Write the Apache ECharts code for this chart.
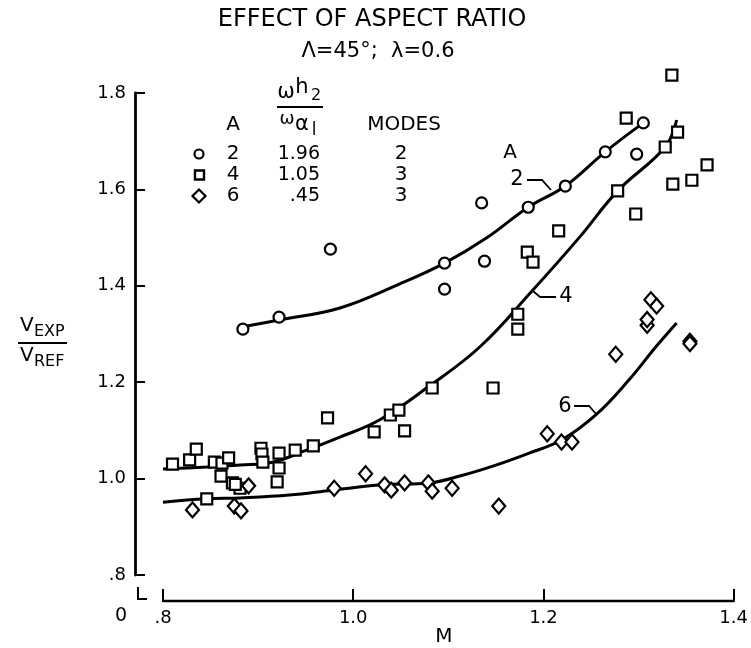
<!DOCTYPE html>
<html><head><meta charset="utf-8">
<script src="https://cdn.jsdelivr.net/npm/echarts@6/dist/echarts.min.js"></script>
<style>html,body{margin:0;padding:0;background:#fff}#c{width:751px;height:648px}</style>
</head><body><div id="c"></div>
<script>
// ---- data (M, V_EXP/V_REF) ----
const circlesA2 = [[0.884,1.310],[0.922,1.335],[0.976,1.476],[1.096,1.393],[1.096,1.447],[1.138,1.451],[1.135,1.572],[1.184,1.563],[1.223,1.607],[1.265,1.678],[1.298,1.673],[1.305,1.738]];
const squaresA4 = [[0.810,1.030],[0.828,1.039],[0.835,1.061],[0.846,0.958],[0.854,1.034],[0.862,1.032],[0.869,1.043],[0.861,1.005],[0.873,0.991],[0.881,0.980],[0.876,0.988],[0.903,1.063],[0.904,1.051],[0.905,1.034],[0.922,1.053],[0.922,1.022],[0.920,0.993],[0.939,1.059],[0.958,1.068],[0.973,1.126],[1.022,1.097],[1.039,1.132],[1.048,1.142],[1.054,1.099],[1.083,1.188],[1.147,1.188],[1.173,1.341],[1.173,1.310],[1.183,1.470],[1.189,1.449],[1.216,1.514],[1.297,1.549],[1.278,1.597],[1.287,1.748],[1.335,1.837],[1.341,1.719],[1.328,1.688],[1.372,1.651],[1.356,1.619],[1.336,1.611]];
const diamondsA6 = [[0.831,0.935],[0.875,0.943],[0.882,0.933],[0.890,0.985],[0.980,0.980],[1.013,1.010],[1.033,0.987],[1.040,0.976],[1.054,0.991],[1.079,0.991],[1.083,0.974],[1.104,0.980],[1.153,0.943],[1.204,1.093],[1.219,1.076],[1.230,1.076],[1.276,1.258],[1.309,1.318],[1.309,1.330],[1.313,1.371],[1.319,1.358],[1.354,1.285],[1.354,1.280]];
const curveA2 = [[0.884,1.315],[0.922,1.329],[0.986,1.354],[1.049,1.404],[1.096,1.447],[1.140,1.499],[1.184,1.563],[1.223,1.607],[1.265,1.678],[1.305,1.738]];
const curveA4 = [[0.800,1.020],[0.846,1.024],[0.881,1.028],[0.915,1.034],[0.951,1.059],[0.986,1.086],[1.028,1.122],[1.080,1.192],[1.133,1.273],[1.187,1.387],[1.238,1.501],[1.278,1.597],[1.328,1.688],[1.340,1.744]];
const curveA6 = [[0.800,0.951],[0.846,0.958],[0.881,0.960],[0.933,0.966],[0.978,0.976],[1.031,0.987],[1.080,0.991],[1.115,1.007],[1.150,1.028],[1.185,1.053],[1.219,1.080],[1.255,1.132],[1.290,1.205],[1.318,1.273],[1.340,1.323]];
const xTickLabels = ['.8','1.0','1.2','1.4'];
const yTickLabels = ['.8','1.0','1.2','1.4','1.6','1.8'];
const legendRows = [
  {sym:'circle', A:'2', ratio:'1.96', modes:'2'},
  {sym:'square', A:'4', ratio:'1.05', modes:'3'},
  {sym:'diamond', A:'6', ratio:'.45', modes:'3'}
];

const FONT = "DejaVu Sans";
const K = '#000';
const chart = echarts.init(document.getElementById('c'), null, {renderer:'canvas'});

function txt(text, x, y, size, align){
  return {type:'text', silent:true, style:{text:text, x:x, y:y, fontSize:size, fontFamily:FONT, fill:K,
    textAlign: align||'center', textVerticalAlign:'middle', verticalAlign:'middle'}};
}
function poly(points, w){
  return {type:'polyline', silent:true, shape:{points:points}, style:{stroke:K, lineWidth:w||1.8, fill:null}};
}

const rowY = [154, 175, 196];
const graphics = [
  txt('EFFECT OF ASPECT RATIO', 372, 20, 24),
  txt('\u039B=45\u00B0;  \u03BB=0.6', 378, 52, 21),
  // y axis name
  txt('V', 20, 326, 20, 'left'), txt('EXP', 34, 332, 16, 'left'),
  {type:'line', silent:true, shape:{x1:18, y1:343, x2:67, y2:343}, style:{stroke:K, lineWidth:2}},
  txt('V', 20, 356, 20, 'left'), txt('REF', 34, 362, 16, 'left'),
  // x axis name
  txt('M', 444, 637, 20),
  // axis break
  txt('0', 121, 616, 19),
  poly([[138,587],[138,599],[147,599]], 2),
  // legend header
  txt('\u03C9', 286, 93, 21), txt('h', 302, 88, 21), txt('2', 316, 96, 16),
  {type:'line', silent:true, shape:{x1:277, y1:107, x2:323, y2:107}, style:{stroke:K, lineWidth:2}},
  txt('\u03C9', 287, 119, 18), txt('\u03B1', 302, 125, 21), txt('l', 314, 131, 17),
  txt('A', 233, 125, 20),
  txt('MODES', 404, 125, 20),
  txt('A', 510, 153, 20),
  // curve labels
  txt('2', 517, 180, 21), poly([[527,180],[542,180],[551,190]]),
  txt('4', 566, 297, 21), poly([[556,297],[540,297],[533,291]]),
  txt('6', 565, 407, 21), poly([[574,406],[589,406],[597,415]])
];
legendRows.forEach((r,i)=>{
  const y = rowY[i];
  if(r.sym==='circle') graphics.push({type:'circle', silent:true, shape:{cx:199, cy:y, r:4.5}, style:{stroke:K, lineWidth:2.2, fill:'#fff'}});
  else if(r.sym==='square') graphics.push({type:'rect', silent:true, shape:{x:195, y:y-4.5, width:9, height:9}, style:{stroke:K, lineWidth:2.4, fill:'#fff'}});
  else graphics.push({type:'polygon', silent:true, shape:{points:[[199,y-6.5],[205.5,y],[199,y+6.5],[192.5,y]]}, style:{stroke:K, lineWidth:2.2, fill:'#fff'}});
  graphics.push(txt(r.A, 233, y, 20));
  graphics.push(txt(r.ratio, 320, y, 19, 'right'));
  graphics.push(txt(r.modes, 401, y, 20));
});

const mk = (name, data, symbol, size) => ({
  name, type:'scatter', data, symbol, symbolSize:size, z:5, clip:false,
  itemStyle:{color:'#fff', borderColor:K, borderWidth:2.2, opacity:1}, emphasis:{disabled:true}
});
const ln = (name, data) => ({
  name, type:'line', data, smooth:0.4, showSymbol:false, symbol:'none', z:3, clip:false,
  lineStyle:{color:K, width:3}, emphasis:{disabled:true}
});

chart.setOption({
  animation:false,
  backgroundColor:'#fff',
  grid:{left:163, right:16, top:93, bottom:73},
  xAxis:{type:'value', min:0.8, max:1.4, interval:0.2, offset:26,
    axisLine:{lineStyle:{color:K, width:2.4}},
    axisTick:{inside:true, length:12, lineStyle:{color:K, width:2}},
    splitLine:{show:false},
    axisLabel:{color:K, fontSize:18, fontFamily:FONT, margin:8,
      formatter:v=>xTickLabels[Math.round((v-0.8)/0.2)]}},
  yAxis:{type:'value', min:0.8, max:1.8, interval:0.2, offset:28,
    axisLine:{show:true, lineStyle:{color:K, width:2.8}},
    axisTick:{show:true, inside:true, length:10, lineStyle:{color:K, width:2}},
    splitLine:{show:false},
    axisLabel:{color:K, fontSize:18, fontFamily:FONT, margin:9,
      formatter:v=>yTickLabels[Math.round((v-0.8)/0.2)]}},
  series:[
    ln('A=2 fit', curveA2), ln('A=4 fit', curveA4), ln('A=6 fit', curveA6),
    mk('A=2', circlesA2, 'circle', 11),
    mk('A=4', squaresA4, 'rect', 11),
    mk('A=6', diamondsA6, 'diamond', [13,15])
  ],
  graphic: graphics
});
</script>
</body></html>
